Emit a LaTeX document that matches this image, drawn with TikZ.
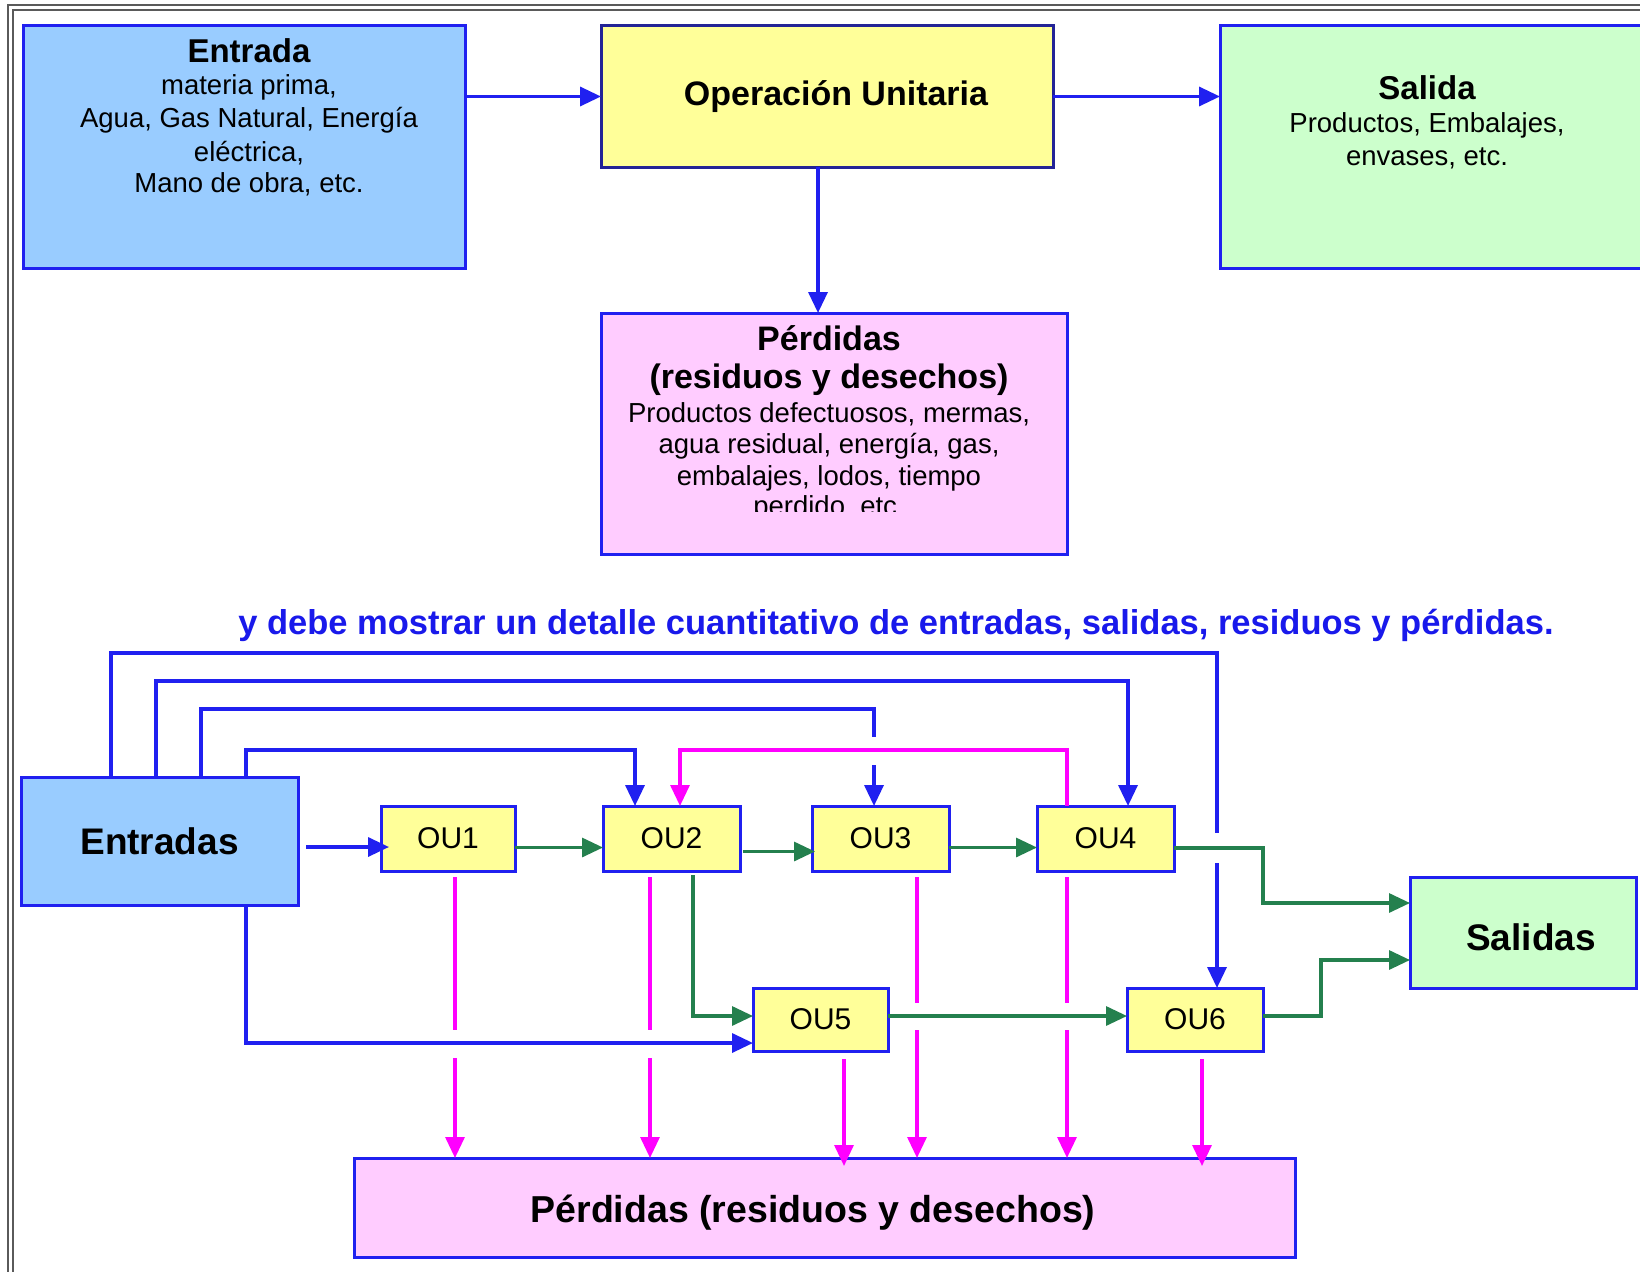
\documentclass[tikz,border=0pt]{standalone}
\usepackage{fontspec}
\setmainfont{Liberation Sans}
\usetikzlibrary{arrows.meta}
\definecolor{bblue}{RGB}{32,32,240}
\definecolor{dblue}{RGB}{35,35,150}
\definecolor{hblue}{RGB}{25,25,235}
\definecolor{lblue}{RGB}{153,204,255}
\definecolor{lyel}{RGB}{255,255,153}
\definecolor{lgrn}{RGB}{204,255,204}
\definecolor{lpink}{RGB}{255,204,255}
\definecolor{mag}{RGB}{255,0,255}
\definecolor{dgrn}{RGB}{36,128,78}
\definecolor{frm}{RGB}{90,90,90}
\newcommand{\myfs}[1]{\fontsize{#1}{#1}\selectfont}
\begin{document}
\begin{tikzpicture}[x=1pt,y=-1pt,
 bx/.style={draw=bblue,line width=3pt,inner sep=0pt,outer sep=0pt,anchor=north west},
 oubox/.style={bx,fill=lyel,font=\myfs{30}},
 tl/.style={inner sep=0pt,anchor=base},
 ttl/.style={tl,font=\bfseries\myfs{#1}},
 bdy/.style={tl,font=\myfs{27.5}},
 arrhd/.style={-{Triangle[length=21pt,width=19pt]}},
 bl/.style={draw=bblue,line width=3.4pt},
 bla/.style={bl,arrhd},
 gr/.style={draw=dgrn,line width=3.2pt},
 gra/.style={gr,arrhd},
 mg/.style={draw=mag,line width=3.2pt},
 mga/.style={mg,arrhd},
]
\useasboundingbox (0,0) rectangle (1640,1271);
\fill[white] (0,0) rectangle (1640,1271);
\draw[frm,line width=2pt] (8,1275) -- (8,5) -- (1645,5);
\draw[frm,line width=1.5pt] (13,1275) -- (13,10) -- (1645,10);

% ---------- top diagram ----------
\node[bx,fill=lblue,minimum width=442pt,minimum height=242pt] (entrada) at (23,26) {};
\node[bx,draw=dblue,fill=lyel,minimum width=452pt,minimum height=141pt] (oper) at (601,26) {};
\node[bx,fill=lgrn,minimum width=430pt,minimum height=242pt] (salida) at (1220,26) {};
\node[bx,fill=lpink,minimum width=466pt,minimum height=241pt] (perd) at (601,313) {};

\node[ttl=33] (tE0) at (249,63) {Entrada};
\node[bdy] (tE1) at (249,95) {materia prima,};
\node[bdy] (tE2) at (249,128) {Agua, Gas Natural, Energía};
\node[bdy] (tE3) at (249,161) {eléctrica,};
\node[bdy] (tE4) at (249,192) {Mano de obra, etc.};

\node[ttl=34] (tO) at (836,106) {Operación Unitaria};

\node[ttl=33] (tS0) at (1427,100) {Salida};
\node[bdy] (tS1) at (1427,132) {Productos, Embalajes,};
\node[bdy] (tS2) at (1427,165) {envases, etc.};

\node[ttl=34] (tP0) at (829,350) {Pérdidas};
\node[ttl=34] (tP1) at (829,388) {(residuos y desechos)};
\node[bdy] (tP2) at (829,422) {Productos defectuosos, mermas,};
\node[bdy] (tP3) at (829,453) {agua residual, energía, gas,};
\node[bdy] (tP4) at (829,485) {embalajes, lodos, tiempo};
\begin{scope}
\clip (600,490) rectangle (1060,511);
\node[bdy] (tP5) at (829,515) {perdido, etc.};
\end{scope}

\draw[bla] (entrada.east |- oper.west) -- (oper.west);
\draw[bla] (oper.east) -- (oper.east -| salida.west);
\draw[bla] ([xshift=-9pt]oper.south) -- ([xshift=-9pt]oper.south |- perd.north);

% ---------- heading ----------
\node[ttl=34.5,text=hblue] (head) at (896,634) {y debe mostrar un detalle cuantitativo de entradas, salidas, residuos y pérdidas.};

% ---------- bottom diagram ----------
\node[bx,fill=lblue,minimum width=277pt,minimum height=128pt,font=\bfseries\myfs{37}] (entradas) at (21,777) {Entradas};
\node[oubox,minimum width=134pt,minimum height=65pt] (ou1) at (381,806) {OU1};
\node[oubox,minimum width=137pt,minimum height=65pt] (ou2) at (603,806) {OU2};
\node[oubox,minimum width=137pt,minimum height=65pt] (ou3) at (812,806) {OU3};
\node[oubox,minimum width=137pt,minimum height=65pt] (ou4) at (1037,806) {OU4};
\node[oubox,minimum width=135pt,minimum height=63pt] (ou5) at (753,988) {OU5};
\node[oubox,minimum width=136pt,minimum height=63pt] (ou6) at (1127,988) {OU6};
\node[bx,fill=lgrn,minimum width=226pt,minimum height=111pt] (salidas) at (1410,877) {};
\node[ttl=37] (tSal) at (1531,950) {Salidas};
\node[bx,fill=lpink,minimum width=941pt,minimum height=99pt] (perdb) at (354,1158) {};
\node[ttl=37.5] (tPb) at (813,1222) {Pérdidas (residuos y desechos)};

% gap coordinates
\coordinate (b1a) at (1217,833);
\coordinate (b1b) at (1217,863);
\coordinate (b3a) at (874,737);
\coordinate (b3b) at (874,765);
\coordinate (p1a) at (455,1030);
\coordinate (p1b) at (455,1058);
\coordinate (p2a) at (650,1030);
\coordinate (p2b) at (650,1058);
\coordinate (p4a) at (917,1003);
\coordinate (p4b) at (917,1030);
\coordinate (p5a) at (1067,1003);
\coordinate (p5b) at (1067,1030);

% blue inputs
\draw[bl] ([xshift=90pt]entradas.north west) -- ++(0,-124) -| (b1a);
\draw[bla] (b1b) -- (b1b |- ou6.north);
\draw[bla] ([xshift=135pt]entradas.north west) -- ++(0,-96) -| ([xshift=22.5pt]ou4.north);
\draw[bl] ([xshift=180pt]entradas.north west) -- ++(0,-68) -| (b3a);
\draw[bla] (b3b) -- (b3b |- ou3.north);
\draw[bla] ([xshift=225pt]entradas.north west) -- ++(0,-27) -| ([xshift=-36.5pt]ou2.north);
\draw[bla] ([shift={(8pt,-6pt)}]entradas.east) -- ([shift={(8pt,-6pt)}]entradas.east -| ou1.west);
\draw[bla] ([xshift=225pt]entradas.south west) |- ([yshift=-23.5pt]ou5.west);

% magenta recycle
\draw[mga] ([xshift=-38.5pt]ou4.north) -- ++(0,-56) -| ([xshift=8.5pt]ou2.north);

% green flows
\draw[gra] ([yshift=-9pt]ou1.east) -- ([yshift=-9pt]ou1.east -| ou2.west);
\draw[gra] ([shift={(3pt,-13pt)}]ou2.east) -- ([shift={(3pt,-13pt)}]ou2.east -| ou3.west);
\draw[gra] ([yshift=-9pt]ou3.east) -- ([yshift=-9pt]ou3.east -| ou4.west);
\draw[gra] ([shift={(21.5pt,-4pt)}]ou2.south) |- ([yshift=3.5pt]ou5.west);
\draw[gra] ([yshift=3.5pt]ou5.east) -- ([yshift=3.5pt]ou5.east -| ou6.west);
\draw[gra] ([yshift=-9.5pt]ou4.east) -- ++(89,0) |- ([yshift=29.5pt]salidas.west);
\draw[gra] ([yshift=3.5pt]ou6.east) -- ++(58,0) |- ([yshift=-27.5pt]salidas.west);

% magenta losses
\draw[mg] ([shift={(7pt,-6pt)}]ou1.south) -- (p1a);
\draw[mga] (p1b) -- (p1b |- perdb.north);
\draw[mg] ([shift={(-21.5pt,-6pt)}]ou2.south) -- (p2a);
\draw[mga] (p2b) -- (p2b |- perdb.north);
\draw[mga] ([shift={(23.5pt,-8pt)}]ou5.south) -- ([shift={(23.5pt,-8pt)}]ou5.south |- perdb.north);
\draw[mg] ([shift={(36.5pt,-6pt)}]ou3.south) -- (p4a);
\draw[mga] (p4b) -- (p4b |- perdb.north);
\draw[mg] ([shift={(-38.5pt,-6pt)}]ou4.south) -- (p5a);
\draw[mga] (p5b) -- (p5b |- perdb.north);
\draw[mga] ([shift={(7pt,-8pt)}]ou6.south) -- ([shift={(7pt,-8pt)}]ou6.south |- perdb.north);
\end{tikzpicture}
\end{document}
